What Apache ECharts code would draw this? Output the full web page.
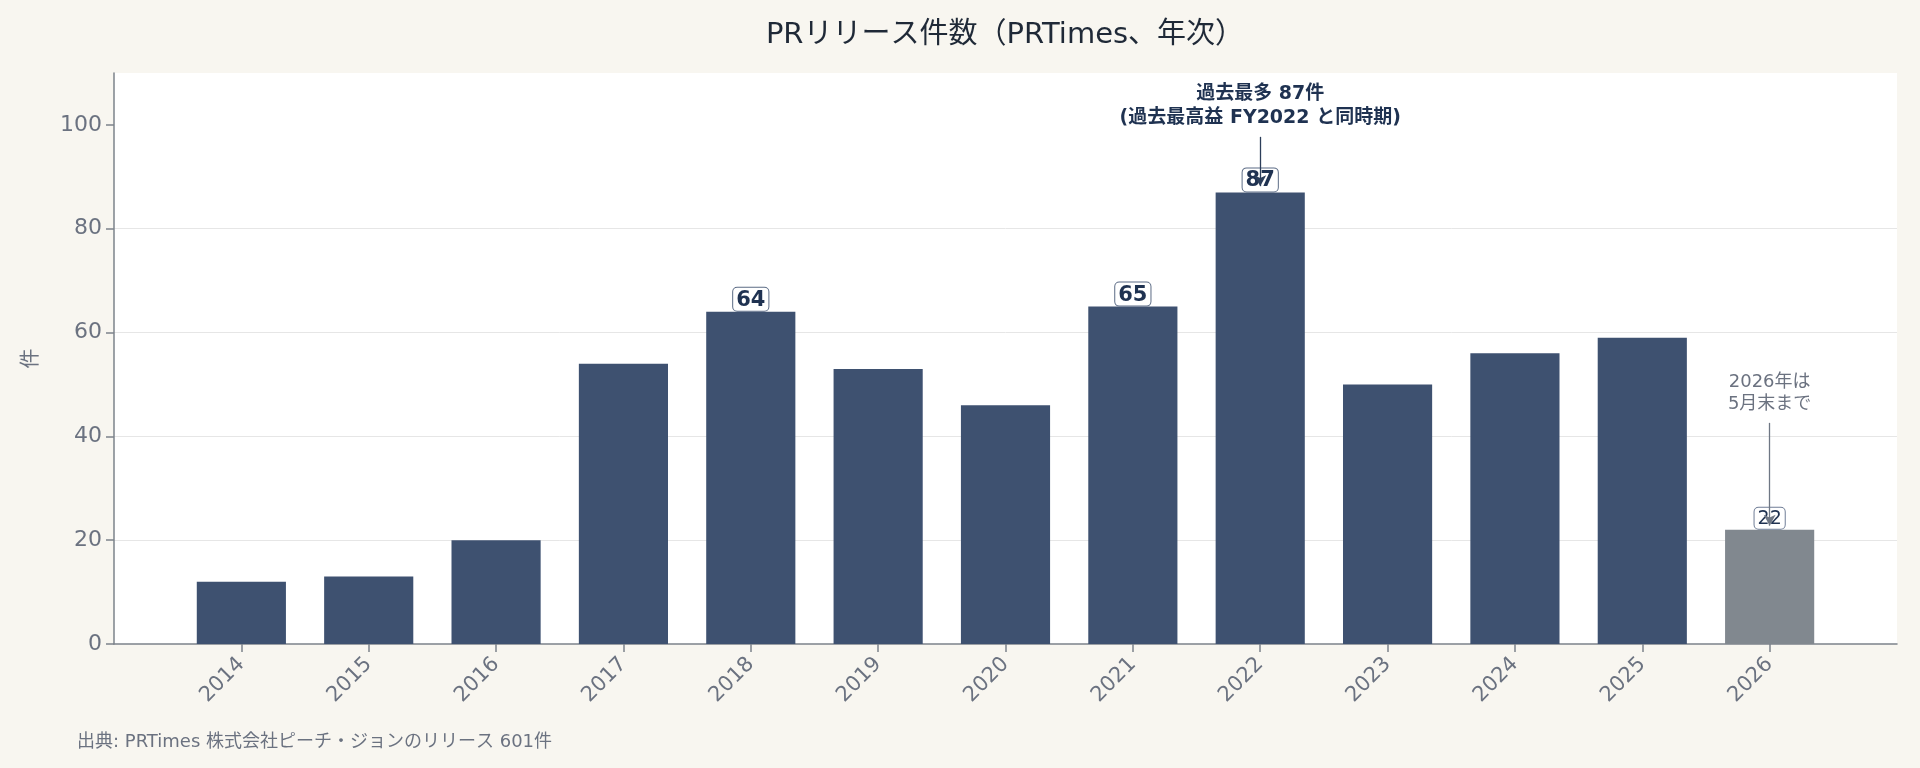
<!DOCTYPE html>
<html>
<head>
<meta charset="utf-8">
<script src="https://cdn.jsdelivr.net/npm/echarts@6/dist/echarts.min.js"></script>
<style>
    html, body { margin: 0; padding: 0; background: #f8f6f0; }
    #chart { width: 1920px; height: 768px; }
</style>
</head>
<body>
<div id="chart"></div>
<script>
// PRリリース件数（年次）
const years = ['2014', '2015', '2016', '2017', '2018', '2019', '2020', '2021', '2022', '2023', '2024', '2025', '2026'];
const counts = [12, 13, 20, 54, 64, 53, 46, 65, 87, 50, 56, 59, 22];
const labeledYears = ['2018', '2021', '2022', '2026'];
const partialYear = '2026';
const yTicks = [0, 20, 40, 60, 80, 100];

// 英数字は DejaVu、和文は Noto CJK にフォールバック
const FONT = '"DejaVu Sans", "Noto Sans CJK JP", sans-serif';
const NAVY = '#3e5170';
const GREY_BAR = '#81888f';
const TEXT_GREY = '#6b7280';
const LABEL_NAVY = '#1f3251';

// 両端に空のカテゴリを足して軸に余白を作る
const cats = [''].concat(years, ['']);

const barData = [null].concat(years.map(function(y, i) {
    const partial = y === partialYear;
    const item = {
        value: counts[i],
        itemStyle: { color: partial ? GREY_BAR : NAVY }
    };
    if (labeledYears.indexOf(y) >= 0) {
        item.label = {
            show: true,
            position: 'top',
            distance: 1,
            fontFamily: FONT,
            fontSize: partial ? 19 : 21,
            fontWeight: partial ? 'normal' : 'bold',
            color: LABEL_NAVY,
            backgroundColor: '#ffffff',
            borderColor: partial ? '#6f7d96' : '#5b6b85',
            borderWidth: 1,
            borderRadius: 4,
            padding: [2, 3, 0, 3]
        };
    }
    return item;
}), [null]);

const chart = echarts.init(document.getElementById('chart'));

const option = {
    animation: false,
    backgroundColor: '#f8f6f0',
    grid: {
        left: 114,
        right: 23,
        top: 73,
        bottom: 124,
        show: true,
        backgroundColor: '#ffffff',
        borderWidth: 0
    },
    xAxis: {
        type: 'category',
        data: cats,
        boundaryGap: false,
        axisLine: { lineStyle: { color: '#7c838b', width: 1.5 } },
        axisTick: {
            length: 8,
            interval: function(index) { return index > 0 && index < cats.length - 1; },
            lineStyle: { color: '#7c838b', width: 1.5 }
        },
        axisLabel: {
            interval: 0,
            rotate: 45,
            margin: 17,
            fontFamily: FONT,
            fontSize: 21,
            color: TEXT_GREY
        },
        splitLine: { show: false }
    },
    yAxis: {
        type: 'value',
        min: 0,
        max: 110,
        interval: 20,
        name: '件',
        nameLocation: 'middle',
        nameGap: 72,
        nameTextStyle: { fontFamily: FONT, fontSize: 20, color: TEXT_GREY },
        axisLine: { show: true, lineStyle: { color: '#7c838b', width: 1.5 } },
        axisTick: { show: true, length: 8, customValues: yTicks, lineStyle: { color: '#7c838b', width: 1.5 } },
        axisLabel: { customValues: yTicks, margin: 12, fontFamily: FONT, fontSize: 22, color: TEXT_GREY },
        splitLine: {
            show: true,
            showMinLine: false,
            showMaxLine: false,
            lineStyle: { color: '#e6e6e6', width: 1 }
        }
    },
    series: [
        {
            name: 'PRリリース件数',
            type: 'bar',
            data: barData,
            barWidth: '70%',
            markLine: {
                silent: true,
                symbol: ['none', 'arrow'],
                symbolSize: [9, 11],
                label: { show: false },
                data: [
                    [
                        { coord: ['2022', 97.7], lineStyle: { color: '#2c3e5a', width: 1.3, type: 'solid' } },
                        { coord: ['2022', 88.2] }
                    ],
                    [
                        { coord: ['2026', 42.6], lineStyle: { color: '#6f7784', width: 1.3, type: 'solid' } },
                        { coord: ['2026', 22.8] }
                    ]
                ]
            },
            markPoint: {
                silent: true,
                symbol: 'circle',
                symbolSize: 1,
                itemStyle: { color: 'rgba(0,0,0,0)' },
                data: [
                    {
                        coord: ['2022', 103.7],
                        label: {
                            show: true,
                            position: 'inside',
                            formatter: '過去最多 87件\n(過去最高益 FY2022 と同時期)',
                            fontFamily: FONT,
                            fontSize: 19,
                            fontWeight: 'bold',
                            lineHeight: 24,
                            color: LABEL_NAVY,
                            align: 'center'
                        }
                    },
                    {
                        coord: ['2026', 48.3],
                        label: {
                            show: true,
                            position: 'inside',
                            formatter: '2026年は\n5月末まで',
                            fontFamily: FONT,
                            fontSize: 18,
                            lineHeight: 22,
                            color: TEXT_GREY,
                            align: 'center'
                        }
                    }
                ]
            }
        }
    ],
    graphic: [
        {
            // タイトルはプロット領域の中央に合わせる
            type: 'text',
            x: 1005,
            y: 35,
            style: {
                text: 'PRリリース件数（PRTimes、年次）',
                font: '29px ' + FONT,
                fill: '#1f2937',
                align: 'center',
                verticalAlign: 'middle'
            }
        },
        {
            type: 'text',
            left: 77,
            top: 733,
            style: {
                text: '出典: PRTimes 株式会社ピーチ・ジョンのリリース 601件',
                font: '18px ' + FONT,
                fill: TEXT_GREY
            }
        }
    ]
};

chart.setOption(option);
window.addEventListener('resize', () => chart.resize());
</script>
</body>
</html>
